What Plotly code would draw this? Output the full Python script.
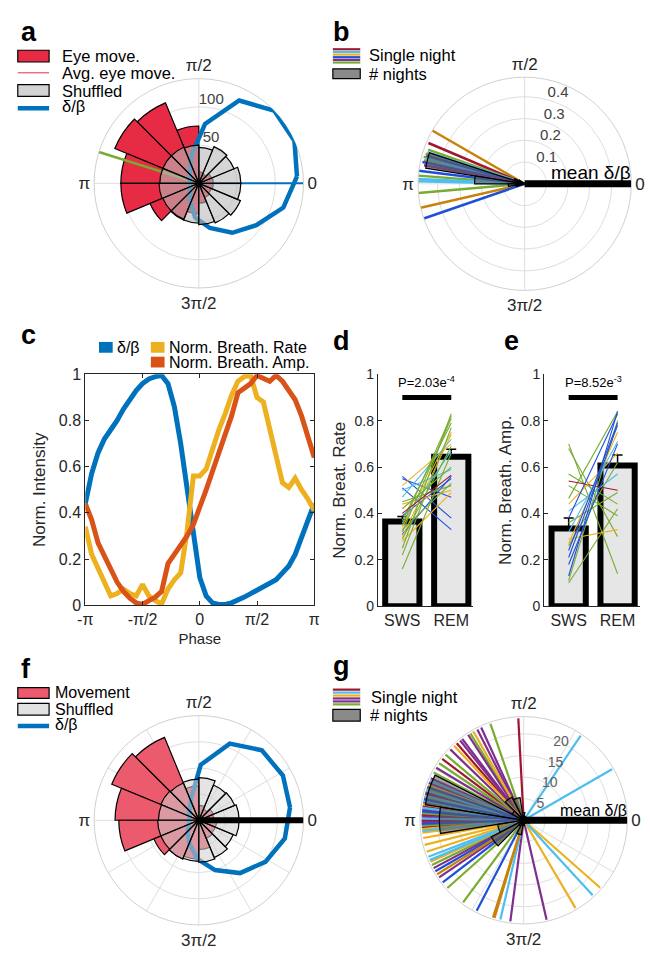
import math
import plotly.graph_objects as go

W, H = 650, 954
FONT = "Liberation Sans, Arial, Helvetica, sans-serif"
INK = "#262626"
GRID = "#DEDEDE"
COL = {"cr": "#A2142F", "lb": "#4DBEEE", "ye": "#EDB120", "pu": "#7E2F8E",
       "gr": "#77AC30", "bl": "#1F4FD8", "or": "#C8820A", "db": "#0072BD",
       "rd": "#D95319"}

# ---------------- data ----------------
bins16 = [11.25, 33.75, 56.25, 78.75, 101.25, 123.75, 146.25, 168.75,
          191.25, 213.75, 236.25, 258.75, 281.25, 303.75, 326.25, 348.75]
# panel a
a_eye = [19, 18, 13, 15, 75, 114, 119, 102, 102, 69, 52, 40, 26, 20, 18, 19]
a_shuffled = [55, 50, 52, 47, 50, 51, 51, 51, 52, 51, 51, 52, 54, 56, 59, 55]
a_db_theta = [4, 24, 44, 64, 84, 104, 124, 144, 164, 184, 204, 224, 244, 264, 284, 304, 324, 344]
a_db = [0.94, 1.0, 1.0, 0.88, 0.57, 0.28, 0.15, 0.11, 0.09, 0.085, 0.09, 0.12, 0.19, 0.33, 0.44, 0.57, 0.68, 0.84]
a_avg_theta = 162.6
A_RMAX = 137

# panel b
b_line_theta = [150, 157, 160.5, 162, 163, 164, 165, 166, 167, 168, 169.5, 173, 175.6, 177.4, 178.6, 185, 193, 199]
b_line_color = ['or', 'cr', 'gr', 'lb', 'or', 'bl', 'gr', 'lb', 'or', 'bl', 'pu', 'bl', 'gr', 'lb', 'lb', 'gr', 'or', 'bl']
b_line_len = [0.49, 0.48, 0.47, 0.47, 0.475, 0.47, 0.48, 0.47, 0.475, 0.48, 0.47, 0.49, 0.49, 0.49, 0.49, 0.49, 0.49, 0.49]
b_hist_theta = [148.5, 157.5, 166.5, 175.5, 184.5, 193.5]
b_hist = [0.03, 0.05, 0.46, 0.23, 0.075, 0.04]
B_RMAX = 0.49

# panel c
phase_deg = [-180, -170, -160, -150, -140, -130, -120, -110, -100, -90, -80, -70, -60, -50, -40, -30, -20, -10,
             0, 10, 20, 30, 40, 50, 60, 70, 80, 90, 100, 110, 120, 130, 140, 150, 160, 170, 180]
c_db = [0.44, 0.57, 0.66, 0.72, 0.76, 0.80, 0.85, 0.89, 0.93, 0.96, 0.98, 0.99, 0.995, 0.96, 0.86, 0.70, 0.50, 0.30,
        0.12, 0.04, 0.01, 0.003, 0.003, 0.01, 0.02, 0.035, 0.05, 0.065, 0.08, 0.095, 0.11, 0.14, 0.17, 0.22, 0.29, 0.37, 0.44]
c_rate = [0.34, 0.22, 0.16, 0.10, 0.04, 0.05, 0.07, 0.05, 0.04, 0.09, 0.04, 0.02, 0.005, 0.07, 0.11, 0.14, 0.32, 0.56,
          0.56, 0.59, 0.68, 0.76, 0.83, 0.91, 0.97, 0.99, 0.995, 0.90, 0.88, 0.76, 0.645, 0.53, 0.51, 0.55, 0.50, 0.46, 0.41]
c_amp = [0.44, 0.37, 0.27, 0.21, 0.15, 0.10, 0.06, 0.03, 0.01, 0.003, 0.02, 0.035, 0.06, 0.18, 0.22, 0.26, 0.30, 0.35,
         0.42, 0.50, 0.58, 0.66, 0.74, 0.82, 0.92, 0.94, 0.96, 0.995, 0.98, 0.97, 0.995, 0.97, 0.93, 0.89, 0.82, 0.73, 0.64]

# panel d / e
states = ["SWS", "REM"]
d_mean = [0.365, 0.645]
d_sem = [0.022, 0.032]
d_sws = [0.56, 0.51, 0.55, 0.52, 0.50, 0.47, 0.45, 0.44, 0.42, 0.40, 0.39, 0.37, 0.35, 0.34, 0.32, 0.31, 0.30, 0.29, 0.28, 0.25, 0.22, 0.16, 0.33, 0.36]
d_rem = [0.38, 0.33, 0.47, 0.70, 0.59, 0.72, 0.52, 0.50, 0.60, 0.565, 0.55, 0.79, 0.82, 0.75, 0.81, 0.56, 0.74, 0.69, 0.49, 0.83, 0.77, 0.66, 0.53, 0.67]
d_col = ['bl', 'bl', 'bl', 'ye', 'lb', 'lb', 'gr', 'ye', 'gr', 'cr', 'bl', 'gr', 'gr', 'ye', 'gr', 'bl', 'ye', 'gr', 'ye', 'gr', 'gr', 'gr', 'gr', 'lb']
e_mean = [0.335, 0.607]
e_sem = [0.045, 0.045]
e_sws = [0.70, 0.68, 0.57, 0.54, 0.52, 0.465, 0.44, 0.41, 0.38, 0.32, 0.29, 0.27, 0.24, 0.21, 0.18, 0.13, 0.11, 0.10, 0.36, 0.26]
e_rem = [0.14, 0.30, 0.44, 0.50, 0.39, 0.84, 0.66, 0.57, 0.83, 0.71, 0.33, 0.75, 0.79, 0.78, 0.70, 0.84, 0.80, 0.42, 0.49, 0.62]
e_col = ['gr', 'gr', 'gr', 'cr', 'gr', 'gr', 'ye', 'lb', 'bl', 'lb', 'ye', 'ye', 'bl', 'bl', 'bl', 'bl', 'gr', 'gr', 'gr', 'gr']

# panel f
f_move = [20, 21, 16, 20, 46, 120, 126, 112, 107, 65, 56, 52, 39, 26, 24, 24]
f_shuffled = [54, 52, 51, 57, 55, 54, 55, 54, 55, 55, 56, 55, 56, 54, 50, 54]
f_db_theta = [8, 28, 48, 68, 88, 108, 128, 148, 168, 188, 208, 228, 248, 268, 288, 308, 328, 348]
f_db = [0.88, 0.91, 0.90, 0.79, 0.53, 0.23, 0.14, 0.11, 0.09, 0.09, 0.11, 0.16, 0.24, 0.37, 0.50, 0.64, 0.75, 0.84]
F_RMAX = 140

# panel g
g_line_theta = [93, 109, 114.6, 117, 119.5, 121.5, 123, 127, 128.5, 131, 133, 136, 140, 143, 146, 149, 152, 155.6, 157, 158.5,
                160, 161, 162, 163, 164, 165, 166, 167, 168, 169, 170, 171, 172, 173, 174, 175, 176, 177, 178, 179,
                180, 181, 182, 183, 184, 185, 186, 187, 190, 194, 198, 201, 203, 204, 206, 208, 210, 212, 214, 217.5,
                221.6, 233.6, 242.6, 252.5, 253.4, 256.8, 262.5, 283, 300.6, 312.6, 318.6, 56, 30]
g_line_color = ['cr', 'gr', 'pu', 'pu', 'ye', 'gr', 'pu', 'pu', 'pu', 'cr', 'ye', 'pu', 'gr', 'cr', 'gr', 'pu', 'gr', 'pu', 'lb', 'pu',
                'ye', 'bl', 'gr', 'lb', 'pu', 'cr', 'lb', 'gr', 'bl', 'lb', 'pu', 'ye', 'cr', 'lb', 'pu', 'bl', 'gr', 'cr', 'pu', 'lb',
                'cr', 'pu', 'bl', 'gr', 'cr', 'ye', 'lb', 'ye', 'ye', 'ye', 'ye', 'lb', 'lb', 'ye', 'gr', 'pu', 'bl', 'or', 'pu', 'bl',
                'gr', 'gr', 'bl', 'or', 'or', 'lb', 'pu', 'pu', 'ye', 'lb', 'ye', 'lb', 'lb']
G_LEN = 23.6
g_hist_theta = [0, 18, 36, 54, 72, 90, 108, 126, 144, 162, 180, 198, 216, 234, 252, 270, 288, 306, 324, 342]
g_hist = [1.0, 0.8, 0.8, 0.8, 1.0, 1.8, 5.3, 6.0, 3.0, 23.0, 19.5, 6.1, 8.4, 1.5, 3.4, 1.2, 0.8, 0.8, 0.8, 1.5]
G_RMAX = 24


# ---------------- helpers ----------------
def px(x):
    return x / W


def py(y):
    return 1 - y / H


def dom(cx, cy, R):
    return dict(x=[(cx - R) / W, (cx + R) / W], y=[1 - (cy + R) / H, 1 - (cy - R) / H])


def base_polar(d, rmax, rtick, rtext, spokes, rangle, rfont=15, rcolor="#404040", rlabels=True):
    angtext = [{0: "0", 90: "π/2", 180: "π", 270: "3π/2"}.get(v, "") for v in spokes]
    return dict(domain=d, bgcolor="white",
                angularaxis=dict(tickvals=spokes, ticktext=angtext, direction="counterclockwise", rotation=0,
                                 showline=True, linecolor="#D0D0D0", linewidth=1, gridcolor=GRID, gridwidth=1,
                                 ticks="", tickfont=dict(size=17, color=INK, family=FONT)),
                radialaxis=dict(range=[0, rmax], tickvals=rtick, ticktext=rtext, showline=False, ticks="",
                                gridcolor=GRID, gridwidth=1, angle=rangle, tickangle=rangle,
                                showticklabels=rlabels,
                                tickfont=dict(size=rfont, color=rcolor, family=FONT)))


def overlay_polar(d, rmax):
    return dict(domain=d, bgcolor="rgba(0,0,0,0)",
                angularaxis=dict(visible=False, direction="counterclockwise", rotation=0),
                radialaxis=dict(visible=False, range=[0, rmax]))


def polar_lines(thetas, lens, colors, sub, width):
    out = []
    for key in dict.fromkeys(colors):
        r, t = [], []
        for th, L, c in zip(thetas, lens, colors):
            if c == key:
                r += [0, L, None]
                t += [th, th, None]
        out.append(go.Scatterpolar(r=r, theta=t, mode="lines", line=dict(color=COL[key], width=width),
                                   subplot=sub, showlegend=False, hoverinfo="skip"))
    return out


def pair_lines(a, b, colors, xa, ya):
    out = []
    for key in dict.fromkeys(colors):
        xs, ys = [], []
        for s, r, c in zip(a, b, colors):
            if c == key:
                xs += [1, 2, None]
                ys += [s, r, None]
        out.append(go.Scatter(x=xs, y=ys, mode="lines", line=dict(color=COL[key], width=1.1),
                              xaxis=xa, yaxis=ya, showlegend=False, hoverinfo="skip"))
    return out


fig = go.Figure()

# ---------------- panel a ----------------
DA = dom(195, 178.5, 107)
fig.add_trace(go.Barpolar(r=a_eye, theta=bins16, width=22.5, subplot="polar",
                          marker=dict(color="#E72B45", line=dict(color="black", width=1.2)), showlegend=False))
fig.add_trace(go.Scatterpolar(r=[0, A_RMAX], theta=[0, 0], mode="lines", line=dict(color=COL["db"], width=2),
                              subplot="polar", showlegend=False))
fig.add_trace(go.Scatterpolar(r=[0, A_RMAX], theta=[a_avg_theta] * 2, mode="lines",
                              line=dict(color=COL["gr"], width=2.5), subplot="polar", showlegend=False))
fig.add_trace(go.Scatterpolar(r=a_db + a_db[:1], theta=a_db_theta + a_db_theta[:1], mode="lines",
                              line=dict(color=COL["db"], width=4.5), subplot="polar2", showlegend=False))
fig.add_trace(go.Barpolar(r=a_shuffled, theta=bins16, width=22.5, subplot="polar3",
                          marker=dict(color="rgba(185,185,185,0.6)", line=dict(color="black", width=1.2)),
                          showlegend=False))

# ---------------- panel b ----------------
DB = dom(528, 179, 109)
for tr in polar_lines(b_line_theta, b_line_len, b_line_color, "polar4", 2.5):
    fig.add_trace(tr)
fig.add_trace(go.Barpolar(r=b_hist, theta=b_hist_theta, width=9, subplot="polar5",
                          marker=dict(color="rgba(95,95,95,0.55)", line=dict(color="black", width=1.2)),
                          showlegend=False))
fig.add_trace(go.Scatterpolar(r=[0, B_RMAX], theta=[0, 0], mode="lines", line=dict(color="black", width=7),
                              subplot="polar5", showlegend=False))

# ---------------- panel f ----------------
DF = dom(195, 827, 107)
fig.add_trace(go.Barpolar(r=f_move, theta=bins16, width=22.5, subplot="polar6",
                          marker=dict(color="#EC5A6E", line=dict(color="black", width=1.2)), showlegend=False))
fig.add_trace(go.Scatterpolar(r=f_db + f_db[:1], theta=f_db_theta + f_db_theta[:1], mode="lines",
                              line=dict(color=COL["db"], width=4.5), subplot="polar7", showlegend=False))
fig.add_trace(go.Barpolar(r=f_shuffled, theta=bins16, width=22.5, subplot="polar8",
                          marker=dict(color="rgba(205,205,205,0.55)", line=dict(color="black", width=1.2)),
                          showlegend=False))
fig.add_trace(go.Scatterpolar(r=[0, F_RMAX], theta=[0, 0], mode="lines", line=dict(color="black", width=6),
                              subplot="polar8", showlegend=False))

# ---------------- panel g ----------------
DG = dom(527, 827, 106)
for tr in polar_lines(g_line_theta, [G_LEN] * len(g_line_theta), g_line_color, "polar9", 2.2):
    fig.add_trace(tr)
fig.add_trace(go.Barpolar(r=g_hist, theta=g_hist_theta, width=18, subplot="polar10",
                          marker=dict(color="rgba(90,90,90,0.55)", line=dict(color="black", width=1.2)),
                          showlegend=False))
fig.add_trace(go.Scatterpolar(r=[0, G_RMAX], theta=[0, 0], mode="lines", line=dict(color="black", width=7),
                              subplot="polar10", showlegend=False))

# ---------------- panel c ----------------
phase = [v * math.pi / 180 for v in phase_deg]
for yv, key in [(c_db, "db"), (c_rate, "ye"), (c_amp, "rd")]:
    fig.add_trace(go.Scatter(x=phase, y=yv, mode="lines", line=dict(color=COL[key], width=5),
                             xaxis="x", yaxis="y", showlegend=False, hoverinfo="skip"))

# ---------------- panel d / e ----------------
for (means, sems, s, r, cols, xa, ya, ptxt) in [
        (d_mean, d_sem, d_sws, d_rem, d_col, "x2", "y2", "P=2.03e<sup>-4</sup>"),
        (e_mean, e_sem, e_sws, e_rem, e_col, "x3", "y3", "P=8.52e<sup>-3</sup>")]:
    fig.add_trace(go.Bar(x=[1, 2], y=means, width=0.7, xaxis=xa, yaxis=ya, showlegend=False,
                         marker=dict(color="#E6E6E6", line=dict(color="black", width=6)),
                         error_y=dict(type="data", symmetric=False, array=sems, arrayminus=[0, 0],
                                      color="black", thickness=1.5, width=5)))
    for tr in pair_lines(s, r, cols, xa, ya):
        fig.add_trace(tr)
    fig.add_trace(go.Scatter(x=[1, 2], y=[0.9, 0.9], mode="lines", line=dict(color="black", width=5),
                             xaxis=xa, yaxis=ya, showlegend=False, hoverinfo="skip"))
    fig.add_annotation(x=1.5, y=0.925, xref=xa, yref=ya, text=ptxt, showarrow=False, yanchor="bottom",
                       font=dict(size=13, color="black", family=FONT))

# ---------------- layout ----------------
ax_common = dict(showline=True, linecolor=INK, linewidth=1, ticks="inside", ticklen=4, tickcolor=INK,
                 showgrid=False, zeroline=False, tickfont=dict(size=16, color=INK, family=FONT))

layout = dict(
    width=W, height=H, margin=dict(l=0, r=0, t=0, b=0), paper_bgcolor="white", plot_bgcolor="white",
    font=dict(family=FONT, color=INK), showlegend=False,
    polar=base_polar(DA, A_RMAX, [50, 100], ["50<br> ", "100<br> "], [0, 90, 180, 270], 96),
    polar2=overlay_polar(DA, 1.0),
    polar3=overlay_polar(DA, A_RMAX),
    polar4=base_polar(DB, B_RMAX, [0.1, 0.2, 0.3, 0.4], ["0.1<br> ", "0.2<br> ", "0.3<br> ", "0.4<br> "],
                      [0, 90, 180, 270], 80),
    polar5=overlay_polar(DB, B_RMAX),
    polar6=base_polar(DF, F_RMAX, [35, 70, 105], ["35", "70", "105"], list(range(0, 360, 30)), 80, rlabels=False),
    polar7=overlay_polar(DF, 1.0),
    polar8=overlay_polar(DF, F_RMAX),
    polar9=base_polar(DG, G_RMAX, [5, 10, 15, 20], ["5", "10", "15", "20"], list(range(0, 360, 30)), 75,
                      rfont=14, rcolor="#606060"),
    polar10=overlay_polar(DG, G_RMAX),
    xaxis=dict(domain=[px(79), px(313)], range=[-math.pi, math.pi], anchor="y", mirror="ticks",
               tickvals=[-math.pi, -math.pi / 2, 0, math.pi / 2, math.pi], ticktext=["-π", "-π/2", "0", "π/2", "π"],
               title=dict(text="Phase", font=dict(size=15, color=INK), standoff=6), **ax_common),
    yaxis=dict(domain=[py(608), py(373)], range=[0, 1], anchor="x", mirror="ticks",
               tickvals=[0, 0.2, 0.4, 0.6, 0.8, 1], ticktext=["0", "0.2", "0.4", "0.6", "0.8", "1"],
               title=dict(text="Norm. Intensity", font=dict(size=17, color=INK), standoff=8), **ax_common),
)
for i, (x0, ytitle) in zip([2, 3], [(378, "Norm. Breat. Rate"), (548, "Norm. Breath. Amp.")]):
    layout[f"xaxis{i}"] = dict(domain=[px(x0), px(x0 + 97.5)], range=[0.5, 2.45], anchor=f"y{i}",
                               tickvals=[1, 2], ticktext=states, showline=True, linecolor=INK, ticks="",
                               showgrid=False, zeroline=False, tickfont=dict(size=16, color=INK, family=FONT))
    layout[f"yaxis{i}"] = dict(domain=[py(609), py(373)], range=[0, 1], anchor=f"x{i}",
                               tickvals=[0, 0.2, 0.4, 0.6, 0.8, 1], ticktext=["0", "0.2", "0.4", "0.6", "0.8", "1"],
                               showline=True, linecolor=INK, ticks="inside", ticklen=4, tickcolor=INK,
                               showgrid=False, zeroline=False, tickfont=dict(size=14, color=INK, family=FONT),
                               title=dict(text=ytitle, font=dict(size=17, color=INK), standoff=4))
fig.update_layout(**layout)

# ---------------- panel letters / legends ----------------
ann = []
shapes = []


def text(x, y, s, size=16.5, bold=False, color="black", anchor="left"):
    ann.append(dict(x=px(x), y=py(y), xref="paper", yref="paper", text=f"<b>{s}</b>" if bold else s,
                    showarrow=False, xanchor=anchor, yanchor="middle",
                    font=dict(size=size, color=color, family=FONT)))


def rect(x0, y0, x1, y1, fill):
    shapes.append(dict(type="rect", xref="paper", yref="paper", x0=px(x0), x1=px(x1), y0=py(y1), y1=py(y0),
                       fillcolor=fill, line=dict(color="black", width=1.2)))


def hline(x0, x1, y, color, width):
    shapes.append(dict(type="line", xref="paper", yref="paper", x0=px(x0), x1=px(x1), y0=py(y), y1=py(y),
                       line=dict(color=color, width=width)))


for (lx, ly, L) in [(11, 24, "a"), (330, 24, "b"), (11, 333, "c"), (330, 339, "d"), (505, 339, "e"),
                    (11, 673, "f"), (330, 670, "g")]:
    text(lx, ly, L, size=27, bold=True)

# legend a
rect(10, 43, 42, 55, "#E72B45"); text(53, 49, "Eye move.")
hline(10, 42, 66, "#E72B45", 1); text(53, 66, "Avg. eye move.")
rect(10, 78, 42, 90, "#D3D3D3"); text(53, 84, "Shuffled")
hline(10, 42, 102, COL["db"], 4.5); text(53, 100, "δ/β")

# legend b
for i, k in enumerate(["cr", "lb", "ye", "bl", "pu", "gr"]):
    hline(332, 360, 42 + i * 2.7, COL[k], 2.2)
text(367, 48, "Single night")
rect(332, 62, 360, 72, "#8A8A8A"); text(367, 67, "# nights")
text(553, 167, "mean δ/β", size=19)

# legend c
for (x0, y0, k, s) in [(93, 340, "db", "δ/β"), (146, 340, "ye", "Norm. Breath. Rate"),
                       (146, 355, "rd", "Norm. Breath. Amp.")]:
    shapes.append(dict(type="rect", xref="paper", yref="paper", x0=px(x0), x1=px(x0 + 14), y0=py(y0 + 11),
                       y1=py(y0), fillcolor=COL[k], line=dict(width=0)))
    text(x0 + 16, y0 + 5.5, s, size=16)

# legend f
rect(10, 692, 42, 703, "#EC5A6E"); text(46, 697, "Movement", size=16)
rect(10, 708, 42, 720, "#E2E2E2"); text(46, 714, "Shuffled", size=16)
hline(10, 42, 731, COL["db"], 4.5); text(46, 729, "δ/β", size=16)

# legend g
for i, k in enumerate(["cr", "lb", "ye", "pu", "pu", "gr"]):
    hline(332, 360, 694 + i * 3, COL[k], 2.2)
text(369, 702, "Single night")
rect(332, 714, 360, 726, "#8A8A8A"); text(368, 720, "# nights")
text(562, 817, "mean δ/β", size=16)

fig.update_layout(annotations=list(fig.layout.annotations) + ann, shapes=shapes)
fig.write_html("out.html")
